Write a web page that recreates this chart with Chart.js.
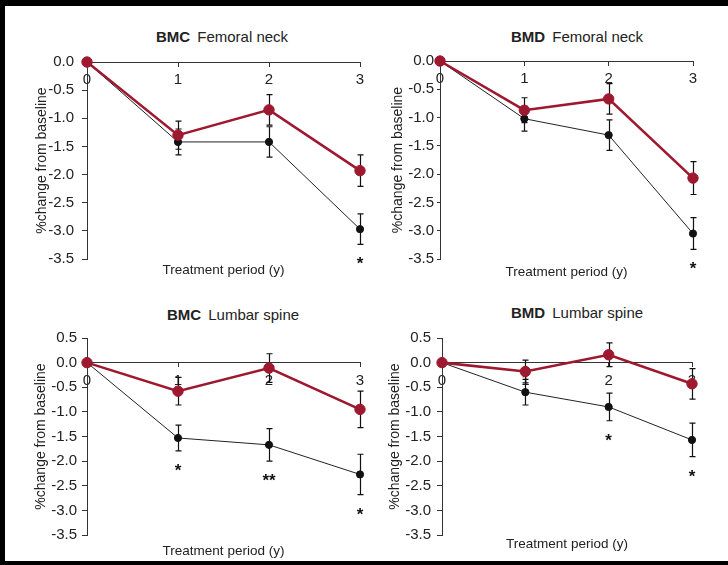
<!DOCTYPE html>
<html>
<head>
<meta charset="utf-8">
<script src="https://cdn.jsdelivr.net/npm/chart.js@4.4.1/dist/chart.umd.min.js"></script>
<style>
  body { margin: 0; background: #fff; width: 728px; height: 565px; overflow: hidden; position: relative; font-family: "Liberation Sans", Arial, sans-serif; }
  .edge { position: absolute; background: #000; }
  .panel { position: absolute; }
  .head { position: absolute; width: 260px; text-align: center; font-size: 15px; line-height: 18px; color: #222; white-space: nowrap; }
  .head b { font-size: 15px; margin-right: 3px; }
</style>
</head>
<body>
<div class="edge" style="left:0;top:0;width:728px;height:6px"></div>
<div class="edge" style="left:0;top:0;width:5px;height:565px"></div>
<div class="edge" style="left:0;top:561px;width:728px;height:4px"></div>

<script>
// x categories (years of treatment) and y tick values
const years = ['0', '1', '2', '3'];
const neckTicks = [0, -0.5, -1, -1.5, -2, -2.5, -3, -3.5];
const spineTicks = [0.5, 0, -0.5, -1, -1.5, -2, -2.5, -3, -3.5];

// BMC femoral neck
const bmcNeckRed = [0, -1.30, -0.85, -1.93];
const bmcNeckRedSE = [0, 0.25, 0.27, 0.28];
const bmcNeckBlack = [0, -1.42, -1.42, -2.97];
const bmcNeckBlackSE = [0, 0.23, 0.27, 0.27];
const bmcNeckStars = ['', '', '', '*'];

// BMD femoral neck
const bmdNeckRed = [0, -0.87, -0.67, -2.07];
const bmdNeckRedSE = [0, 0.22, 0.27, 0.29];
const bmdNeckBlack = [0, -1.02, -1.31, -3.05];
const bmdNeckBlackSE = [0, 0.22, 0.27, 0.28];
const bmdNeckStars = ['', '', '', '*'];

// BMC lumbar spine
const bmcSpineRed = [0, -0.58, -0.11, -0.95];
const bmcSpineRedSE = [0, 0.28, 0.29, 0.37];
const bmcSpineBlack = [0, -1.53, -1.67, -2.27];
const bmcSpineBlackSE = [0, 0.26, 0.33, 0.41];
const bmcSpineStars = ['', '*', '**', '*'];

// BMD lumbar spine
const bmdSpineRed = [0, -0.18, 0.16, -0.43];
const bmdSpineRedSE = [0, 0.23, 0.24, 0.31];
const bmdSpineBlack = [0, -0.60, -0.90, -1.57];
const bmdSpineBlackSE = [0, 0.26, 0.28, 0.34];
const bmdSpineStars = ['', '', '*', '*'];

const RED = '#9e182f';
const INK = '#111';
const AXIS = '#333';
const TEXT = '#222';

Chart.defaults.font.family = '"Liberation Sans", Arial, sans-serif';

const panels = [
  { bold: 'BMC', site: 'Femoral neck', red: bmcNeckRed, redSE: bmcNeckRedSE, black: bmcNeckBlack, blackSE: bmcNeckBlackSE, stars: bmcNeckStars, ticks: neckTicks,
    box: { left: 34, top: 50, width: 341, height: 228 }, axisW: 53, tick: 5, pad: 8, titleH: 19, head: { x: 222, y: 37 } },
  { bold: 'BMD', site: 'Femoral neck', red: bmdNeckRed, redSE: bmdNeckRedSE, black: bmdNeckBlack, blackSE: bmdNeckBlackSE, stars: bmdNeckStars, ticks: neckTicks,
    box: { left: 390, top: 49, width: 318, height: 231 }, axisW: 50, tick: 3, pad: 3, titleH: 21, head: { x: 577, y: 37 } },
  { bold: 'BMC', site: 'Lumbar spine', red: bmcSpineRed, redSE: bmcSpineRedSE, black: bmcSpineBlack, blackSE: bmcSpineBlackSE, stars: bmcSpineStars, ticks: spineTicks,
    box: { left: 33, top: 326, width: 342, height: 233 }, axisW: 54, tick: 5, pad: 5, titleH: 24, head: { x: 233, y: 315 } },
  { bold: 'BMD', site: 'Lumbar spine', red: bmdSpineRed, redSE: bmdSpineRedSE, black: bmdSpineBlack, blackSE: bmdSpineBlackSE, stars: bmdSpineStars, ticks: spineTicks,
    box: { left: 387, top: 326, width: 320, height: 226 }, axisW: 55, tick: 5, pad: 6, titleH: 17, head: { x: 577, y: 313 } }
];

// error bars under the markers, significance stars under the black series
const errorBarsAndStars = {
  id: 'errorBarsAndStars',
  beforeDatasetsDraw(chart) {
    const { ctx, scales: { x, y } } = chart;
    ctx.save();
    ctx.strokeStyle = INK;
    ctx.lineWidth = 1.2;
    chart.data.datasets.forEach(ds => {
      ds.data.forEach((v, i) => {
        const e = ds.errors[i];
        if (!e) return;
        const px = Math.round(x.getPixelForValue(i)) + 0.5;
        const top = y.getPixelForValue(v + e);
        const bot = y.getPixelForValue(v - e);
        ctx.beginPath();
        ctx.moveTo(px, top); ctx.lineTo(px, bot);
        ctx.moveTo(px - 3, top); ctx.lineTo(px + 3, top);
        ctx.moveTo(px - 3, bot); ctx.lineTo(px + 3, bot);
        ctx.stroke();
      });
    });
    ctx.restore();
  },
  afterDatasetsDraw(chart) {
    const { ctx, scales: { x, y } } = chart;
    ctx.save();
    ctx.fillStyle = INK;
    ctx.font = 'bold 17px "Liberation Sans", Arial, sans-serif';
    ctx.textAlign = 'center';
    ctx.textBaseline = 'alphabetic';
    chart.data.datasets.forEach(ds => {
      if (!ds.stars) return;
      ds.stars.forEach((s, i) => {
        if (!s) return;
        const px = x.getPixelForValue(i);
        const low = y.getPixelForValue(ds.data[i] - ds.errors[i]);
        ctx.fillText(s, px, low + 16 + 9);
      });
    });
    ctx.restore();
  }
};

panels.forEach(p => {
  const div = document.createElement('div');
  div.className = 'panel';
  div.style.left = p.box.left + 'px';
  div.style.top = p.box.top + 'px';
  div.style.width = p.box.width + 'px';
  div.style.height = p.box.height + 'px';
  const canvas = document.createElement('canvas');
  div.appendChild(canvas);
  document.body.appendChild(div);

  const head = document.createElement('div');
  head.className = 'head';
  head.style.left = (p.head.x - 130) + 'px';
  head.style.top = (p.head.y - 9) + 'px';
  head.innerHTML = '<b>' + p.bold + '</b> ' + p.site;
  document.body.appendChild(head);

  new Chart(canvas.getContext('2d'), {
    type: 'line',
    data: {
      labels: years,
      datasets: [
        {
          data: p.red, errors: p.redSE,
          borderColor: RED, backgroundColor: RED, borderWidth: 2.6,
          pointRadius: 5.2, pointBorderWidth: 1, pointBorderColor: RED, pointBackgroundColor: RED,
          tension: 0, clip: false
        },
        {
          data: p.black, errors: p.blackSE, stars: p.stars,
          borderColor: '#222', backgroundColor: INK, borderWidth: 1,
          pointRadius: 3.6, pointBorderWidth: 1, pointBorderColor: INK, pointBackgroundColor: INK,
          tension: 0, clip: false
        }
      ]
    },
    options: {
      responsive: true,
      maintainAspectRatio: false,
      animation: false,
      layout: { padding: { top: 12, right: 15, bottom: 0, left: 0 } },
      plugins: { legend: { display: false }, tooltip: { enabled: false } },
      scales: {
        x: {
          type: 'category',
          position: { y: 0 },
          offset: false,
          grid: { drawOnChartArea: false, tickLength: 4, color: AXIS },
          border: { color: AXIS, width: 1 },
          ticks: { padding: 5, color: TEXT, font: { size: 15 }, maxRotation: 0, autoSkip: false },
          afterFit: s => { s.height = 0; s.paddingLeft = 0; s.paddingRight = 0; }
        },
        xt: {
          type: 'category',
          position: 'bottom',
          offset: false,
          grid: { display: false },
          border: { display: false },
          ticks: { display: false },
          title: { display: true, text: 'Treatment period (y)', color: TEXT, font: { size: 13.5 }, padding: 0 },
          afterFit: s => { s.height = p.titleH; s.paddingLeft = 0; s.paddingRight = 0; }
        },
        y: {
          min: p.ticks[p.ticks.length - 1],
          max: p.ticks[0],
          afterBuildTicks: s => { s.ticks = p.ticks.map(v => ({ value: v })); },
          grid: { drawOnChartArea: false, tickLength: p.tick, color: AXIS },
          border: { color: AXIS, width: 1 },
          ticks: { padding: p.pad, color: TEXT, font: { size: 15 }, autoSkip: false, callback: v => Number(v).toFixed(1) },
          title: { display: true, text: '%change from baseline', color: TEXT, font: { size: 14 }, padding: 0 },
          afterFit: s => { s.width = p.axisW; s.paddingTop = 0; s.paddingBottom = 0; }
        }
      }
    },
    plugins: [errorBarsAndStars]
  });
});
</script>
</body>
</html>
